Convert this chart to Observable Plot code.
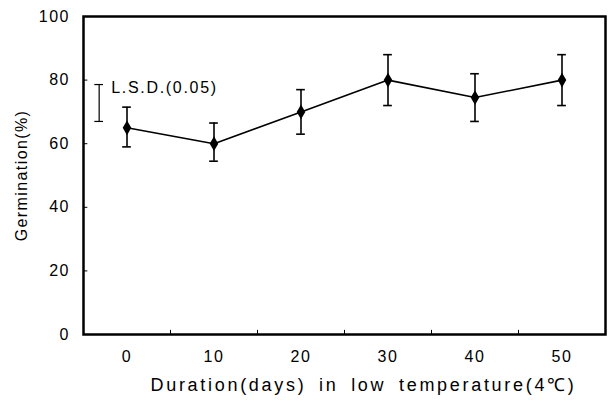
<!DOCTYPE html>
<html>
<head>
<meta charset="utf-8">
<script src="https://cdn.jsdelivr.net/npm/d3@7"></script>
<script src="https://cdn.jsdelivr.net/npm/@observablehq/plot@0.6"></script>
<style>
  html, body { margin: 0; padding: 0; background: #fff; }
  svg { display: block; }
  g[aria-label="x-axis tick label"] text,
  g[aria-label="y-axis tick label"] text { letter-spacing: 1.5px; }
  g[aria-label="y-axis label"] text { font-size: 16px; letter-spacing: 1.4px; }
  g[aria-label="text"] text.lsd { letter-spacing: 1.7px; }
  g[aria-label="text"] text.xlab { letter-spacing: 2.7px; word-spacing: 5px; }
</style>
</head>
<body>
<div id="chart"></div>
<script>
const days = [0, 10, 20, 30, 40, 50];
const germination = [65, 60, 70, 80, 74.5, 80];
const errHigh = [71.5, 66.5, 77, 88, 82, 88];
const errLow = [59, 54.5, 63, 72, 67, 72];
const xTickLabels = [0, 10, 20, 30, 40, 50];
const xMinorTicks = [5, 15, 25, 35, 45];
const yTickLabels = [0, 20, 40, 60, 80, 100];
const lsdX = [-3.2];
const lsdLow = [67];
const lsdHigh = [78.6];
const lsdLabel = ["L.S.D.(0.05)"];
const xLabel = "Duration(days) in low temperature(4\u2103)";
const yLabel = "Germination(%)";

const data = days.map((d, i) => ({x: d, y: germination[i], hi: errHigh[i], lo: errLow[i]}));
const lsd = lsdX.map((x, i) => ({x, lo: lsdLow[i], hi: lsdHigh[i], label: lsdLabel[i]}));
const capHalf = 0.5;

const chart = Plot.plot({
  width: 613,
  height: 409,
  marginLeft: 83,
  marginRight: 8,
  marginTop: 16,
  marginBottom: 75,
  style: {fontFamily: "'Liberation Sans', Arial, sans-serif", fontSize: "16px", color: "#000", background: "#fff"},
  x: {domain: [-5, 55]},
  y: {domain: [0, 100]},
  marks: [
    Plot.axisX({ticks: xTickLabels, tickSize: 0, tickPadding: 16, fontSize: 16, label: null}),
    Plot.axisY({ticks: yTickLabels, tickSize: 0, tickPadding: 13.5, fontSize: 16,
      label: yLabel, labelAnchor: "center", labelArrow: "none", labelOffset: 68}),
    Plot.ruleX(xMinorTicks, {x: d => d, y1: 0, y2: 1.3, strokeWidth: 1}),
    Plot.ruleY(yTickLabels.slice(1, -1), {y: d => d, x1: -5, x2: -4.5, strokeWidth: 1}),
    Plot.line(data, {x: "x", y: "y", stroke: "#000", strokeWidth: 1.6}),
    Plot.ruleX(data, {x: "x", y1: "lo", y2: "hi", strokeWidth: 1.6}),
    Plot.ruleY(data, {y: "hi", x1: d => d.x - capHalf, x2: d => d.x + capHalf, strokeWidth: 1.6}),
    Plot.ruleY(data, {y: "lo", x1: d => d.x - capHalf, x2: d => d.x + capHalf, strokeWidth: 1.6}),
    Plot.dot(data, {x: "x", y: "y", symbol: "diamond", fill: "#000", r: 4.5}),
    Plot.ruleX(lsd, {x: "x", y1: "lo", y2: "hi", strokeWidth: 1.2}),
    Plot.ruleY(lsd, {y: "hi", x1: d => d.x - capHalf, x2: d => d.x + capHalf, strokeWidth: 1.2}),
    Plot.ruleY(lsd, {y: "lo", x1: d => d.x - capHalf, x2: d => d.x + capHalf, strokeWidth: 1.2}),
    Plot.text(lsd, {x: "x", y: "hi", text: "label", textAnchor: "start", dx: 12, dy: 3, fontSize: 16}),
    Plot.text([xLabel], {frameAnchor: "bottom", dx: 19, dy: 56, fontSize: 18}),
    Plot.frame({stroke: "#000", strokeWidth: 2.5})
  ]
});
const texts = chart.querySelectorAll('g[aria-label="text"]');
if (texts[0]) texts[0].querySelectorAll("text").forEach(t => t.classList.add("lsd"));
if (texts[1]) texts[1].querySelectorAll("text").forEach(t => t.classList.add("xlab"));
document.getElementById("chart").appendChild(chart);
</script>
</body>
</html>
